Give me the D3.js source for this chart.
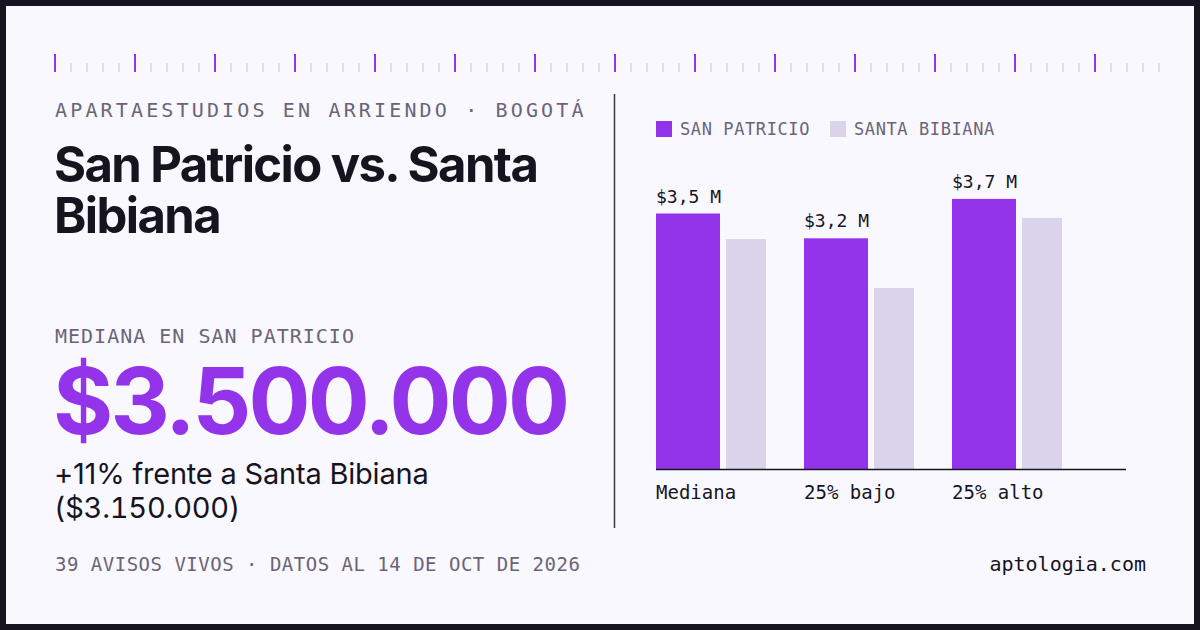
<!DOCTYPE html>
<meta charset="utf-8">
<script src="https://d3js.org/d3.v7.min.js"></script>
<style>
  body { margin: 0; background: #16141f; }
  svg { display: block; }
  .mono { font-family: "DejaVu Sans Mono", monospace; }
  .sans { font-family: Inter, "Noto Sans", sans-serif; }
</style>
<svg id="vis"></svg>
<script>
  // data
  var categories = ['Mediana', '25% bajo', '25% alto']
  var sanPatricio = [3.5, 3.16, 3.7]      // millones COP
  var santaBibiana = [3.15, 2.48, 3.44]
  var barLabels = ['$3,5 M', '$3,2 M', '$3,7 M']
  var seriesNames = ['SAN PATRICIO', 'SANTA BIBIANA']

  var width = 1200
  var height = 630
  var purple = '#9333ea'
  var lilac = '#dbd3ea'
  var ink = '#16141f'
  var grey = '#6b6478'

  var svg = d3.select('#vis')
    .attr('width', width)
    .attr('height', height)

  // frame
  svg.append('rect')
    .attr('width', width).attr('height', height)
    .attr('fill', ink)
  svg.append('rect')
    .attr('x', 6).attr('y', 6)
    .attr('width', 1188).attr('height', 618)
    .attr('fill', '#f9f8fe')

  // ruler along the top
  var tickX = d3.scaleLinear().domain([0, 69]).range([55, 1159])
  svg.append('g')
    .selectAll('rect')
    .data(d3.range(70))
    .enter().append('rect')
      .attr('x', function (d) { return tickX(d) - (d % 5 == 0 ? 1 : 0.75) })
      .attr('y', function (d) { return d % 5 == 0 ? 54 : 63 })
      .attr('width', function (d) { return d % 5 == 0 ? 2 : 1.5 })
      .attr('height', function (d) { return d % 5 == 0 ? 18 : 9 })
      .attr('fill', function (d) { return d % 5 == 0 ? purple : '#d9d3e8' })

  // left column text
  svg.append('text')
    .attr('class', 'mono')
    .attr('x', 55).attr('y', 117)
    .attr('font-size', 20)
    .attr('letter-spacing', 3.15)
    .attr('fill', grey)
    .text('APARTAESTUDIOS EN ARRIENDO · BOGOTÁ')

  var title = svg.append('text')
    .attr('class', 'sans')
    .attr('font-size', 49)
    .attr('font-weight', 700)
    .attr('letter-spacing', -1.6)
    .attr('fill', ink)
  title.append('tspan').attr('x', 54).attr('y', 182).text('San Patricio vs. Santa')
  title.append('tspan').attr('x', 54).attr('y', 233).text('Bibiana')

  svg.append('text')
    .attr('class', 'mono')
    .attr('x', 55).attr('y', 343)
    .attr('font-size', 20)
    .attr('letter-spacing', 1)
    .attr('fill', grey)
    .text('MEDIANA EN SAN PATRICIO')

  svg.append('text')
    .attr('class', 'sans')
    .attr('x', 53).attr('y', 434)
    .attr('font-size', 92)
    .attr('font-weight', 700)
    .attr('letter-spacing', -2.8)
    .attr('fill', purple)
    .text('$3.500.000')

  var sub = svg.append('text')
    .attr('class', 'sans')
    .attr('font-size', 29)
    .attr('letter-spacing', -0.2)
    .attr('fill', ink)
  sub.append('tspan').attr('x', 54).attr('y', 484).text('+11% frente a Santa Bibiana')
  sub.append('tspan').attr('x', 54).attr('y', 518)
    .style('font-variant-numeric', 'tabular-nums')
    .text('($3.150.000)')

  svg.append('text')
    .attr('class', 'mono')
    .attr('x', 55).attr('y', 571)
    .attr('font-size', 19)
    .attr('letter-spacing', 0.5)
    .attr('fill', grey)
    .text('39 AVISOS VIVOS · DATOS AL 14 DE OCT DE 2026')

  svg.append('text')
    .attr('class', 'mono')
    .attr('x', 1146).attr('y', 571)
    .attr('text-anchor', 'end')
    .attr('font-size', 20)
    .attr('fill', ink)
    .text('aptologia.com')

  // divider
  svg.append('line')
    .attr('x1', 614.5).attr('x2', 614.5)
    .attr('y1', 94).attr('y2', 528)
    .attr('stroke', '#3a3745')
    .attr('stroke-width', 1.5)

  // legend
  var legend = svg.append('g')
    .selectAll('g')
    .data(seriesNames)
    .enter().append('g')
      .attr('transform', function (d, i) { return 'translate(' + (656 + i * 174) + ',121)' })
  legend.append('rect')
    .attr('width', 16).attr('height', 16)
    .attr('fill', function (d, i) { return i == 0 ? purple : lilac })
  legend.append('text')
    .attr('class', 'mono')
    .attr('x', 24).attr('y', 14)
    .attr('font-size', 17)
    .attr('letter-spacing', 0.6)
    .attr('fill', grey)
    .text(function (d) { return d })

  // bar chart
  var x_scale = d3.scaleBand()
    .domain(categories)
    .range([656, 1062])
    .paddingInner(38 / 148)
    .paddingOuter(0)

  var y_scale = d3.scaleLinear()
    .domain([0, 4])
    .range([469, 177])

  var spW = x_scale.bandwidth() * 64 / 110
  var sbW = x_scale.bandwidth() * 40 / 110
  var gap = x_scale.bandwidth() - spW - sbW

  svg.append('g')
    .selectAll('rect')
    .data(santaBibiana)
    .enter().append('rect')
      .attr('x', function (d, i) { return x_scale(categories[i]) + spW + gap })
      .attr('y', function (d) { return y_scale(d) })
      .attr('width', sbW)
      .attr('height', function (d) { return y_scale(0) - y_scale(d) })
      .attr('fill', lilac)

  svg.append('g')
    .selectAll('rect')
    .data(sanPatricio)
    .enter().append('rect')
      .attr('x', function (d, i) { return x_scale(categories[i]) })
      .attr('y', function (d) { return y_scale(d) })
      .attr('width', spW)
      .attr('height', function (d) { return y_scale(0) - y_scale(d) })
      .attr('fill', purple)

  svg.append('g')
    .selectAll('text')
    .data(sanPatricio)
    .enter().append('text')
      .attr('class', 'mono')
      .attr('x', function (d, i) { return x_scale(categories[i]) })
      .attr('y', function (d) { return y_scale(d) - 11 })
      .attr('font-size', 18)
      .attr('fill', ink)
      .text(function (d, i) { return barLabels[i] })

  // axis
  svg.append('line')
    .attr('x1', 656).attr('x2', 1126)
    .attr('y1', y_scale(0) + 0.5).attr('y2', y_scale(0) + 0.5)
    .attr('stroke', ink)
    .attr('stroke-width', 1.5)

  svg.append('g')
    .selectAll('text')
    .data(categories)
    .enter().append('text')
      .attr('class', 'mono')
      .attr('x', function (d) { return x_scale(d) })
      .attr('y', 499)
      .attr('font-size', 19)
      .attr('fill', ink)
      .text(function (d) { return d })
</script>
